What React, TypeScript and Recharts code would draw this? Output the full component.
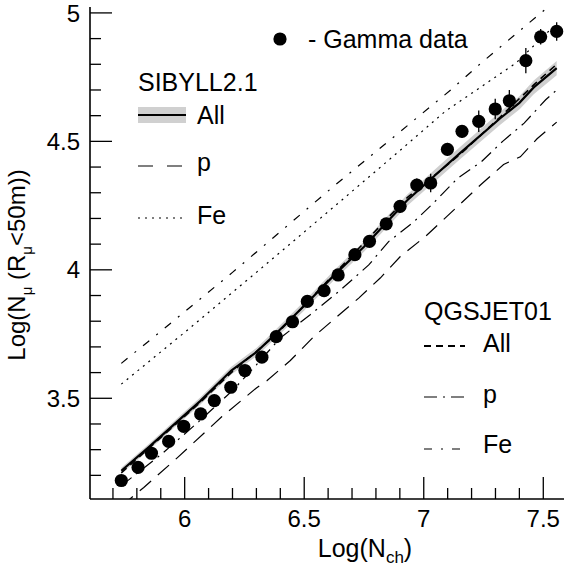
import React from "react";
import { ComposedChart, Line, Area, Scatter, XAxis, YAxis, ErrorBar } from "recharts";

// Gamma data points
const gammaX = [5.735, 5.805, 5.861, 5.933, 5.996, 6.067, 6.124, 6.193, 6.252, 6.323, 6.383, 6.451, 6.513, 6.583, 6.642, 6.712, 6.773, 6.843, 6.901, 6.971, 7.029, 7.099, 7.16, 7.23, 7.299, 7.358, 7.427, 7.489, 7.556];
const gammaY = [3.18, 3.231, 3.286, 3.332, 3.391, 3.439, 3.491, 3.543, 3.608, 3.66, 3.74, 3.798, 3.877, 3.919, 3.98, 4.059, 4.111, 4.179, 4.247, 4.33, 4.338, 4.469, 4.539, 4.578, 4.626, 4.658, 4.814, 4.907, 4.928];
const gammaErr = [0.015, 0.015, 0.015, 0.015, 0.015, 0.015, 0.015, 0.015, 0.015, 0.015, 0.02, 0.02, 0.02, 0.02, 0.02, 0.02, 0.02, 0.02, 0.025, 0.025, 0.036, 0.025, 0.025, 0.042, 0.04, 0.042, 0.049, 0.03, 0.036];

// SIBYLL2.1 all (solid line + grey band)
const sibAllX = [5.735, 5.85, 5.97, 6.066, 6.195, 6.3, 6.38, 6.5, 6.637, 6.75, 6.93, 7.05, 7.153, 7.32, 7.4, 7.46, 7.556];
const sibAllY = [3.218, 3.31, 3.41, 3.49, 3.608, 3.68, 3.75, 3.86, 3.99, 4.09, 4.27, 4.37, 4.455, 4.59, 4.65, 4.71, 4.785];
const sibAllErr = [0.012, 0.012, 0.013, 0.014, 0.015, 0.016, 0.017, 0.018, 0.019, 0.02, 0.022, 0.023, 0.024, 0.025, 0.026, 0.027, 0.028];

// SIBYLL2.1 p (long dash)
const sibPX = [5.735, 5.829, 5.971, 6.156, 6.3, 6.345, 6.442, 6.54, 6.63, 6.728, 6.818, 6.902, 7.007, 7.097, 7.237, 7.334, 7.404, 7.474, 7.556];
const sibPY = [3.08, 3.153, 3.27, 3.429, 3.54, 3.569, 3.647, 3.74, 3.812, 3.89, 3.968, 4.052, 4.13, 4.208, 4.33, 4.41, 4.44, 4.51, 4.575];

// SIBYLL2.1 Fe (dotted)
const sibFeX = [5.735, 6.003, 6.3, 6.61, 6.895, 7.09, 7.386, 7.557];
const sibFeY = [3.555, 3.759, 3.99, 4.234, 4.46, 4.617, 4.805, 4.96];

// QGSJET01 all (dashed)
const qgsAllX = [5.735, 6.066, 6.195, 6.38, 6.637, 6.93, 7.153, 7.32, 7.46, 7.556];
const qgsAllY = [3.21, 3.485, 3.6, 3.745, 3.995, 4.28, 4.45, 4.595, 4.72, 4.8];

// QGSJET01 p (long dash-dot)
const qgsPX = [5.735, 5.9, 6.06, 6.2, 6.3, 6.4, 6.525, 6.65, 6.77, 6.853, 6.955, 7.041, 7.142, 7.24, 7.33, 7.42, 7.51, 7.556];
const qgsPY = [3.16, 3.28, 3.41, 3.53, 3.63, 3.735, 3.825, 3.92, 4.019, 4.11, 4.184, 4.26, 4.357, 4.42, 4.5, 4.571, 4.662, 4.7];

// QGSJET01 Fe (short dash-dot)
const qgsFeX = [5.735, 5.898, 6.2, 6.623, 6.784, 7.114, 7.24, 7.516, 7.556];
const qgsFeY = [3.636, 3.759, 3.99, 4.325, 4.448, 4.701, 4.805, 5.02, 5.05];

const xTicks = [5.7, 5.8, 5.9, 6.0, 6.1, 6.2, 6.3, 6.4, 6.5, 6.6, 6.7, 6.8, 6.9, 7.0, 7.1, 7.2, 7.3, 7.4, 7.5];
const yTicks = [3.2, 3.3, 3.4, 3.5, 3.6, 3.7, 3.8, 3.9, 4.0, 4.1, 4.2, 4.3, 4.4, 4.5, 4.6, 4.7, 4.8, 4.9, 5.0];
const xLabels = [6, 6.5, 7, 7.5];
const yLabels = [3.5, 4, 4.5, 5];

const X_DOMAIN = [5.604, 7.595];
const Y_DOMAIN = [3.108, 5.023];

const FONT = "'Liberation Sans', Arial, Helvetica, sans-serif";
const TM = 10;

const pts = (xs: number[], ys: number[]) => xs.map((x, i) => ({ x, y: ys[i] }));
const gamma = gammaX.map((x, i) => ({ x, y: gammaY[i], err: gammaErr[i] }));
const sibAll = pts(sibAllX, sibAllY);
const sibBand = sibAllX.map((x, i) => ({ x, band: [sibAllY[i] - sibAllErr[i], sibAllY[i] + sibAllErr[i]] }));

const isMajor = (v: number, list: number[]) => list.some((l) => Math.abs(l - v) < 1e-6);

function YTick(props: any) {
  const { x, y, payload } = props;
  const ax = x + TM;
  const major = isMajor(payload.value, yLabels);
  return (
    <g>
      <line x1={ax} x2={ax + (major ? 22 : 11)} y1={y} y2={y} stroke="#000" strokeWidth={1.3} />
      {major && (
        <text x={x} y={y} dy="0.36em" textAnchor="end" fontSize={24} fontFamily={FONT} fill="#000">
          {String(payload.value)}
        </text>
      )}
    </g>
  );
}

function XTick(props: any) {
  const { x, y, payload } = props;
  const ay = y - TM;
  const major = isMajor(payload.value, xLabels);
  return (
    <g>
      <line x1={x} x2={x} y1={ay} y2={ay - (major ? 22 : 11)} stroke="#000" strokeWidth={1.3} />
      {major && (
        <text x={x} y={ay + 28} textAnchor="middle" fontSize={24} fontFamily={FONT} fill="#000">
          {String(payload.value)}
        </text>
      )}
    </g>
  );
}

function Overlay() {
  const txt = { fontSize: 25, fontFamily: FONT, fill: "#000" };
  return (
    <svg width={564} height={569} style={{ position: "absolute", left: 0, top: 0, pointerEvents: "none" }}>
      {/* axis titles */}
      <text x={365} y={557} textAnchor="middle" {...txt}>
        Log(N<tspan fontSize={17} dy={6}>ch</tspan><tspan dy={-6}>)</tspan>
      </text>
      <text transform="translate(25,265) rotate(-90)" textAnchor="middle" {...txt} fontSize={24}>
        Log(N<tspan fontSize={15} dy={7}>μ</tspan><tspan dy={-7}> (R</tspan><tspan fontSize={15} dy={7}>μ</tspan><tspan dy={-7}>&lt;50m))</tspan>
      </text>

      {/* data legend */}
      <circle cx={280} cy={39} r={6.6} fill="#000" />
      <text x={308} y={48} {...txt}>- Gamma data</text>

      {/* SIBYLL legend */}
      <text x={138} y={91} {...txt}>SIBYLL2.1</text>
      <rect x={138} y={107} width={48} height={16} fill="#d0d0d0" />
      <line x1={138} x2={186} y1={115} y2={115} stroke="#000" strokeWidth={2.2} />
      <text x={197} y={124} {...txt}>All</text>
      <line x1={138} x2={183} y1={166} y2={166} stroke="#000" strokeWidth={1.2} strokeDasharray="15 14" />
      <text x={197} y={171} {...txt}>p</text>
      <line x1={138} x2={183} y1={218} y2={218} stroke="#000" strokeWidth={1.2} strokeDasharray="2 5" />
      <text x={197} y={224} {...txt}>Fe</text>

      {/* QGSJET legend */}
      <text x={424} y={320} {...txt}>QGSJET01</text>
      <line x1={424} x2={465} y1={346} y2={346} stroke="#000" strokeWidth={2} strokeDasharray="7 5" />
      <text x={483} y={352} {...txt}>All</text>
      <line x1={424} x2={469} y1={397} y2={397} stroke="#000" strokeWidth={1.2} strokeDasharray="13 6 2 6" />
      <text x={483} y={403} {...txt}>p</text>
      <line x1={424} x2={464} y1={449} y2={449} stroke="#000" strokeWidth={1.2} strokeDasharray="8 9 2 9" />
      <text x={483} y={453} {...txt}>Fe</text>
    </svg>
  );
}

export default function App() {
  return (
    <div style={{ position: "absolute", left: 0, top: 0, width: 564, height: 569, overflow: "hidden", background: "#fff" }}>
      <ComposedChart width={580} height={569} margin={{ top: 7, right: 14, bottom: 10, left: 30 }}>
        <XAxis
          dataKey="x"
          type="number"
          domain={X_DOMAIN}
          allowDataOverflow
          ticks={xTicks}
          interval={0}
          tickSize={0}
          tickMargin={TM}
          height={60}
          tick={<XTick />}
          axisLine={{ stroke: "#000", strokeWidth: 1.6 }}
        />
        <XAxis
          xAxisId="top"
          orientation="top"
          dataKey="x"
          type="number"
          domain={X_DOMAIN}
          allowDataOverflow
          height={0}
          tick={false}
          tickLine={false}
          axisLine={{ stroke: "#000", strokeWidth: 1.6 }}
        />
        <YAxis
          dataKey="y"
          type="number"
          domain={Y_DOMAIN}
          allowDataOverflow
          ticks={yTicks}
          interval={0}
          tickSize={0}
          tickMargin={TM}
          width={60}
          tick={<YTick />}
          axisLine={{ stroke: "#000", strokeWidth: 1.6 }}
        />
        <Area data={sibBand} dataKey="band" type="linear" stroke="none" fill="#cfcfcf" fillOpacity={1} isAnimationActive={false} />
        <Line data={pts(sibFeX, sibFeY)} dataKey="y" type="linear" dot={false} stroke="#000" strokeWidth={1.2} strokeDasharray="2 5" isAnimationActive={false} />
        <Line data={pts(qgsFeX, qgsFeY)} dataKey="y" type="linear" dot={false} stroke="#000" strokeWidth={1.2} strokeDasharray="8 9 2 9" isAnimationActive={false} />
        <Line data={pts(sibPX, sibPY)} dataKey="y" type="linear" dot={false} stroke="#000" strokeWidth={1.2} strokeDasharray="15 9" isAnimationActive={false} />
        <Line data={pts(qgsPX, qgsPY)} dataKey="y" type="linear" dot={false} stroke="#000" strokeWidth={1.2} strokeDasharray="13 6 2 6" isAnimationActive={false} />
        <Line data={sibAll} dataKey="y" type="linear" dot={false} stroke="#000" strokeWidth={2.2} isAnimationActive={false} />
        <Line data={pts(qgsAllX, qgsAllY)} dataKey="y" type="linear" dot={false} stroke="#000" strokeWidth={1.6} strokeDasharray="7 5" isAnimationActive={false} />
        <Scatter
          data={gamma}
          dataKey="y"
          isAnimationActive={false}
          shape={(p: any) => <circle cx={p.cx} cy={p.cy} r={6.6} fill="#000" />}
        >
          <ErrorBar dataKey="err" direction="y" width={0} stroke="#000" strokeWidth={1.3} />
        </Scatter>
      </ComposedChart>
      <Overlay />
    </div>
  );
}
